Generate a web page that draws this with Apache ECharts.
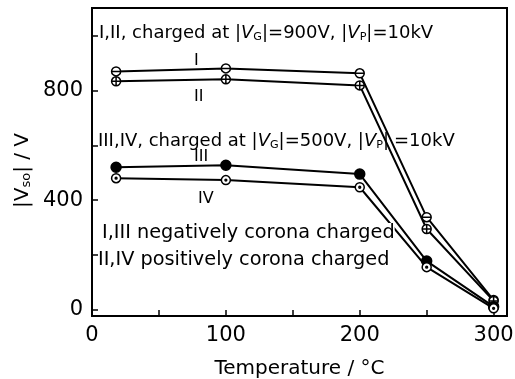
<!DOCTYPE html>
<html>
<head>
<meta charset="utf-8">
<script src="https://cdn.jsdelivr.net/npm/echarts@6/dist/echarts.min.js"></script>
<style>
  html, body { margin: 0; padding: 0; background: #fff; }
  #chart { width: 515px; height: 379px; }
</style>
</head>
<body>
<div id="chart"></div>
<script>
// 温度（°C）
const temps = [18, 100, 200, 250, 300];
// 表面电位 |Vso| (V)
const seriesI = [869, 880, 862, 338, 36];
const seriesII = [833, 840, 818, 295, 33];
const seriesIII = [520, 527, 495, 178, 12];
const seriesIV = [480, 473, 447, 156, 6];

const xTicks = [0, 50, 100, 150, 200, 250, 300];
const xLabels = [0, 100, 200, 300];
const yTicks = [0, 200, 400, 600, 800, 1000];
const yLabels = [0, 400, 800];

const FONT = 'DejaVu Sans';

// 符号
const symMinus = 'path://M0,10A10,10,0,1,1,20,10A10,10,0,1,1,0,10ZM0,10L20,10';
const symPlus = 'path://M0,10A10,10,0,1,1,20,10A10,10,0,1,1,0,10ZM0,10L20,10M10,0L10,20';
const symDot = 'path://M0,10A10,10,0,1,1,20,10A10,10,0,1,1,0,10ZM8,10A2,2,0,1,1,12,10A2,2,0,1,1,8,10Z';

function pairs(ys) {
    return temps.map((t, i) => [t, ys[i]]);
}

function makeSeries(name, ys, symbol, filled) {
    return {
        name: name,
        type: 'line',
        data: pairs(ys),
        symbol: symbol,
        symbolSize: filled ? 10 : 9,
        lineStyle: { color: '#000', width: 2 },
        itemStyle: { color: filled ? '#000' : '#fff', borderColor: '#000', borderWidth: 1.5 },
        z: 3
    };
}

const chart = echarts.init(document.getElementById('chart'));

const txt = (left, y, text, size, bg) => ({
    type: 'text',
    left: left,
    top: y,
    z: 100,
    style: {
        text: text,
        font: size + 'px ' + FONT,
        fill: '#000',
        backgroundColor: bg || null,
        rich: {
            a: { fontSize: size, fontFamily: FONT },
            i: { fontSize: size, fontFamily: FONT, fontStyle: 'italic' },
            s: { fontSize: size * 0.62, fontFamily: FONT, padding: [9, 0, 0, 0] }
        }
    }
});

const option = {
    animation: false,
    backgroundColor: '#fff',
    grid: {
        left: 92, right: 8, top: 8, bottom: 63,
        outerBoundsMode: 'none',
        containLabel: false,
        show: true, borderColor: '#000', borderWidth: 2
    },
    xAxis: {
        type: 'value',
        min: 0,
        max: 310,
        splitLine: { show: false },
        axisLine: { onZero: false, lineStyle: { color: '#000', width: 2 } },
        axisTick: { inside: true, length: 6, lineStyle: { color: '#000', width: 1.5 }, customValues: xTicks },
        axisLabel: {
            customValues: xLabels, color: '#000', fontSize: 21, fontFamily: FONT, margin: 9,
            formatter: v => (v % 100 === 0 ? String(v) : '')
        },
        name: 'Temperature / °C',
        nameLocation: 'middle',
        nameGap: 43,
        nameTextStyle: { color: '#000', fontSize: 20, fontFamily: FONT }
    },
    yAxis: {
        type: 'value',
        min: -22,
        max: 1100,
        splitLine: { show: false },
        axisLine: { lineStyle: { color: '#000', width: 2 } },
        axisTick: { inside: true, length: 6, lineStyle: { color: '#000', width: 1.5 }, customValues: yTicks },
        axisLabel: {
            customValues: yLabels, color: '#000', fontSize: 21, fontFamily: FONT, margin: 9,
            formatter: v => (v % 400 === 0 ? String(v) : '')
        }
    },
    series: [
        makeSeries('I', seriesI, symMinus, false),
        makeSeries('II', seriesII, symPlus, false),
        makeSeries('III', seriesIII, 'circle', true),
        makeSeries('IV', seriesIV, symDot, false)
    ],
    graphic: [
        txt(99, 24, '{a|I,II, charged at |}{i|V}{s|G}{a||=900V, |}{i|V}{s|P}{a||=10kV}', 18),
        txt(98, 132, '{a|III,IV, charged at |}{i|V}{s|G}{a||=500V, |}{i|V}{s|P}{a||}', 18),
        txt(394, 132, '=10kV', 18),
        txt(194, 53, 'I', 16),
        txt(194, 89, 'II', 16),
        txt(194, 149, 'III', 16),
        txt(198, 191, 'IV', 16),
        txt(102, 223, 'I,III negatively corona charged', 19.3, '#fff'),
        txt(98, 250, 'II,IV positively corona charged', 19.3),
        {
            type: 'text',
            left: 13,
            top: 133,
            rotation: Math.PI / 2,
            z: 100,
            style: {
                text: '{a||V}{s|so}{a|| / V}',
                fill: '#000',
                rich: {
                    a: { fontSize: 20, fontFamily: FONT },
                    s: { fontSize: 13, fontFamily: FONT, padding: [8, 0, 0, 0] }
                }
            }
        }
    ]
};

chart.setOption(option);
</script>
</body>
</html>
